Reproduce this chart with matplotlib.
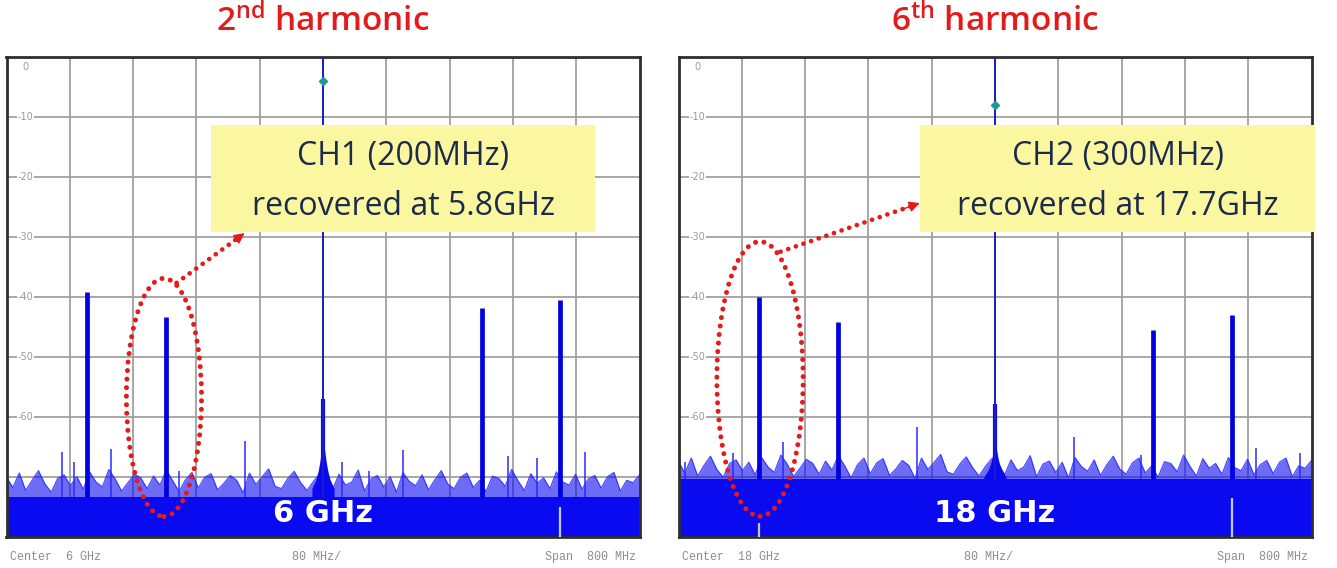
import numpy as np
import matplotlib
matplotlib.use('Agg')
from matplotlib import pyplot as plt
from matplotlib.patches import Ellipse, Rectangle

# ---- data (GHz / dB) ----
titles = [r'$\mathregular{2^{nd}}$ harmonic', r'$\mathregular{6^{th}}$ harmonic']
centers = [6.0, 18.0]
span = 0.8
center_labels = ['Center  6 GHz', 'Center  18 GHz']
div_label = '80 MHz/'
span_label = 'Span  800 MHz'
big_labels = ['6 GHz', '18 GHz']
box_text = [('CH1 (200MHz)', 'recovered at 5.8GHz'),
            ('CH2 (300MHz)', 'recovered at 17.7GHz')]
ylabels = [0, -10, -20, -30, -40, -50, -60]

# left panel (2nd harmonic)
peak_f_l = [5.702, 5.802, 6.000, 6.201, 6.300]
peak_db_l = [-39.2, -43.3, 0.0, -41.9, -40.6]
mark_db_l = -4.0
stem_db_l = -57.0
spur_f_l = [5.670, 5.685, 5.732, 5.818, 5.901, 6.024, 6.058, 6.101, 6.234, 6.270, 6.331]
spur_db_l = [-65.8, -67.5, -65.3, -69.0, -64.0, -67.6, -69.0, -65.6, -66.5, -66.8, -65.9]
skirt_mhz = [-14, -9, -6, -4, -2, 0, 2, 4, 6, 9, 14]
skirt_db_l = [-72.0, -70.5, -69.0, -67.5, -65.5, -62.5, -65.5, -67.5, -69.0, -70.5, -72.0]
floor_l = -73.3
noise_l = [-70.1, -71.8, -69.4, -72.3, -70.6, -69.0, -71.2, -72.6, -70.3, -69.7,
           -71.5, -70.0, -72.1, -69.2, -70.9, -71.7, -68.8, -70.4, -72.4, -71.0,
           -69.6, -70.2, -72.0, -69.9, -71.4, -68.9, -70.7, -72.5, -70.5, -69.3,
           -71.9, -70.1, -69.5, -72.2, -71.1, -69.8, -70.6, -72.7, -69.4, -71.3,
           -70.0, -68.7, -71.6, -72.0, -70.3, -69.1, -71.0, -72.3, -70.8, -69.5,
           -70.2, -72.1, -69.6, -71.4, -70.9, -68.9, -72.4, -70.4, -69.8, -71.7,
           -70.0, -72.6, -69.3, -70.8, -71.5, -69.7, -72.2, -70.5, -69.0, -71.2,
           -72.0, -70.1, -69.4, -71.8, -70.6, -72.5, -69.9, -70.3, -71.6, -68.8,
           -70.7, -72.3, -69.5, -71.1, -70.2, -72.0, -69.2, -70.9, -71.4, -69.6,
           -72.1, -70.4, -69.8, -71.9, -70.0, -69.3, -72.4, -70.6, -71.0, -69.7]
tick_f_l = [6.300]
tick_db_l = [-75.0]

# right panel (6th harmonic)
peak_f_r = [17.702, 17.801, 18.000, 18.200, 18.300]
peak_db_r = [-40.0, -44.2, 0.0, -45.6, -43.1]
mark_db_r = -8.0
stem_db_r = -57.8
spur_f_r = [17.608, 17.669, 17.732, 17.902, 18.100, 18.185, 18.330, 18.386]
spur_db_r = [-67.5, -66.0, -64.2, -61.7, -63.3, -66.4, -65.2, -66.0]
skirt_db_r = [-70.0, -69.0, -68.0, -67.0, -65.5, -63.5, -65.5, -67.0, -68.0, -69.0, -70.0]
floor_r = -70.3
noise_r = [-67.5, -69.4, -66.9, -69.9, -68.1, -66.6, -68.8, -70.1, -67.8, -67.2,
           -69.0, -67.6, -69.7, -66.8, -68.4, -69.3, -66.4, -67.9, -70.0, -68.6,
           -67.1, -67.8, -69.6, -67.4, -68.9, -66.5, -68.2, -70.2, -68.0, -66.9,
           -69.5, -67.7, -67.0, -69.8, -68.7, -67.3, -68.1, -70.3, -66.9, -68.8,
           -67.6, -66.3, -69.2, -69.6, -67.9, -66.7, -68.5, -69.9, -68.3, -67.0,
           -67.7, -69.7, -67.2, -69.0, -68.4, -66.5, -70.0, -67.9, -67.4, -69.3,
           -67.6, -70.2, -66.8, -68.3, -69.1, -67.2, -69.8, -68.0, -66.6, -68.7,
           -69.6, -67.7, -66.9, -69.4, -68.2, -70.1, -67.5, -67.8, -69.2, -66.4,
           -68.3, -69.9, -67.0, -68.6, -67.8, -69.6, -66.8, -68.5, -69.0, -67.1,
           -69.7, -68.0, -67.3, -69.5, -67.6, -66.9, -70.0, -68.2, -68.6, -67.3]
tick_f_r = [17.702, 18.300]
tick_db_r = [-77.7, -73.5]

# annotation geometry (GHz, dB)
ellipses = [(5.799, -56.8, 0.095, 39.7), (17.703, -53.7, 0.109, 45.8)]
arrows = [((5.815, -37.7), (5.901, -29.4)), ((17.729, -32.5), (17.905, -24.4))]
boxes = [(5.859, 6.344), (17.905, 18.405)]

BLUE = '#0a0af0'
RED = '#e31b1b'
YMIN, YMAX = -80, 0
DOTS = (0, (0.01, 1.7))

fig = plt.figure(figsize=(13.37, 5.68), dpi=100)
axl = fig.add_axes([6.5 / 1337, 1 - 536.7 / 568, 633 / 1337, 480 / 568])
axr = fig.add_axes([678.5 / 1337, 1 - 536.7 / 568, 633 / 1337, 480 / 568])

panels = [
    (axl, peak_f_l, peak_db_l, mark_db_l, stem_db_l, spur_f_l, spur_db_l, skirt_db_l, floor_l, noise_l, tick_f_l, tick_db_l),
    (axr, peak_f_r, peak_db_r, mark_db_r, stem_db_r, spur_f_r, spur_db_r, skirt_db_r, floor_r, noise_r, tick_f_r, tick_db_r),
]

for i, (ax, pf, pdb, mdb, sdb, spf, spdb, skdb, floor, noise, tf, tdb) in enumerate(panels):
    c = centers[i]
    lo, hi = c - span / 2, c + span / 2
    ax.set_xlim(lo, hi)
    ax.set_ylim(YMIN, YMAX)

    # graticule
    ax.set_xticks([c + k * span / 10 for k in range(-4, 5)])
    ax.set_yticks(range(-70, 0, 10))
    ax.tick_params(length=0, labelbottom=False, labelleft=False)
    ax.grid(True, color='#a0a0a0', lw=1.3)
    ax.set_axisbelow(True)
    for s in ax.spines.values():
        s.set_linewidth(2)
        s.set_color('#2e2e2e')
    for v in ylabels:
        ax.text(0.03, v if v < 0 else -1.7, str(v), transform=ax.get_yaxis_transform(),
                ha='center', va='center', fontsize=7, color='#9a9a9a', family='DejaVu Sans',
                bbox=dict(fc='white', ec='none', pad=0.6), zorder=1.5)

    # noise floor: solid base plus jagged trace
    nf = np.linspace(lo, hi, len(noise))
    ax.fill_between([lo, hi], YMIN, floor, color=BLUE, lw=0, zorder=2)
    ax.fill_between(nf, floor, noise, color=BLUE, alpha=0.6, lw=0, zorder=2)
    ax.plot(nf, noise, color='#2b2bff', lw=0.9, alpha=0.85, zorder=2)

    # spurs
    ax.vlines(spf, floor, spdb, color='#2a2aff', lw=1.1, zorder=3)

    # carrier skirt + peaks
    sk_f = [c + m / 1000 for m in skirt_mhz]
    ax.fill_between(sk_f, floor, skdb, color=BLUE, lw=0, zorder=3)
    for f, db in zip(pf, pdb):
        if db == 0.0:
            ax.vlines(f, floor, sdb, color=BLUE, lw=3, zorder=3)
            ax.vlines(f, floor, db, color='#1c1cc8', lw=1.4, zorder=3)
            ax.plot(f, mdb, marker='D', ms=4, color='#1f9a8c', zorder=4)
        else:
            ax.vlines(f, floor, db, color='#0000e0', lw=3.4, zorder=3)

    # light marker ticks in the floor
    ax.vlines(tf, YMIN, tdb, color='#c4caff', lw=1.6, zorder=3)

    ax.text(c, -76.2, big_labels[i], ha='center', va='center', color='white',
            fontsize=22, fontweight='bold', family='DejaVu Sans', zorder=5)

    # title
    ax.text(0.5, 1.072, titles[i], transform=ax.transAxes, ha='center', va='center',
            color=RED, fontsize=24, fontweight='semibold', family='Open Sans')

    # bottom readouts
    kw = dict(transform=ax.transAxes, va='center', fontsize=8.5, color='#8c8c8c', family='Liberation Mono')
    ax.text(0.006, -0.042, center_labels[i], ha='left', **kw)
    ax.text(0.49, -0.042, div_label, ha='center', **kw)
    ax.text(0.994, -0.042, span_label, ha='right', **kw)

    # highlight ellipse + dotted arrow with a solid head
    ex, ey, ew, eh = ellipses[i]
    ax.add_patch(Ellipse((ex, ey), ew, eh, fill=False, ec=RED, lw=3.6,
                         ls=DOTS, capstyle='round', zorder=6))
    (tx, ty), (hx, hy) = arrows[i]
    ax.annotate('', xy=(hx, hy), xytext=(tx, ty), zorder=6,
                arrowprops=dict(arrowstyle='-', color=RED, lw=3.4, ls=DOTS,
                                capstyle='round', shrinkA=0, shrinkB=4))
    ax.annotate('', xy=(hx, hy), xytext=(hx - 0.12 * (hx - tx), hy - 0.12 * (hy - ty)), zorder=6,
                arrowprops=dict(arrowstyle='-|>', color=RED, lw=1, mutation_scale=16,
                                shrinkA=0, shrinkB=0))

    # yellow call-out box
    bx0, bx1 = boxes[i]
    ax.add_patch(Rectangle((bx0, -29.2), bx1 - bx0, 17.8, fc='#fbf7a1', ec='none',
                           zorder=6, clip_on=False))
    bc = (bx0 + bx1) / 2
    ax.text(bc, -16.7, box_text[i][0], ha='center', va='center', fontsize=23,
            color='#1d2b4a', family='Open Sans', zorder=7)
    ax.text(bc, -25.0, box_text[i][1], ha='center', va='center', fontsize=23,
            color='#1d2b4a', family='Open Sans', zorder=7)

fig.savefig('out.png', dpi=100)
